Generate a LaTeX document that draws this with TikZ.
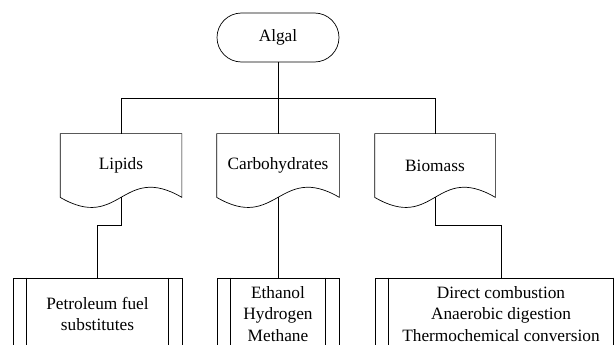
\documentclass[tikz,border=0pt]{standalone}
\usepackage{fontspec}
\setmainfont{Liberation Serif}
\newfontfamily\figfont{Liberation Serif}
\usetikzlibrary{shapes.misc}

\begin{document}
\begin{tikzpicture}[
        x=1pt, y=-1pt,
        line width=0.7pt,
        every node/.style={font=\figfont\fontsize{17.3}{21.5}\selectfont, align=center, inner sep=0pt},
        term/.style={draw, rounded rectangle, minimum width=122pt, minimum height=49pt},
        docbox/.style={minimum width=#1, minimum height=63pt},
        procbox/.style={draw, minimum width=#1, minimum height=72pt},
        link/.style={draw}
    ]
        \useasboundingbox (0,0) rectangle (614,345);
        \clip (0,0) rectangle (614,345);

        % top
        \node[term] (algal) at (278,37.5) {Algal};

        % products of the algae
        \node[docbox=121pt] (lipids) at (121,165.5) {Lipids};
        \node[docbox=122pt] (carbo) at (278,165.5) {Carbohydrates};
        \node[docbox=120pt] (biomass) at (435,165.5) {Biomass};
        \foreach \n in {lipids,carbo,biomass}
            \draw (\n.south west) |- (\n.north east) -- (\n.south east)
                .. controls +(-60,-35) and +(60,35) .. (\n.south west);

        % uses
        \node[procbox=169pt] (fuel) at (97.5,314) {Petroleum fuel\\substitutes};
        \node[procbox=122pt] (gas) at (278,314) {Ethanol\\Hydrogen\\Methane};
        \node[procbox=252pt] (energy) at (501,314) {Direct combustion\\Anaerobic digestion\\Thermochemical conversion};
        \foreach \n in {fuel,gas,energy} {
            \draw ([xshift=14pt]\n.north west) -- ([xshift=14pt]\n.south west);
            \draw ([xshift=-14pt]\n.north east) -- ([xshift=-14pt]\n.south east);
        }

        % connectors
        \draw[link] (algal.south) -- (carbo.north);
        \draw[link] (lipids.north) -- ++(0,-35) -| (biomass.north);
        \draw[link] (lipids.south) -- ++(0,28) -| (fuel.north);
        \draw[link] (carbo.south) -- (gas.north);
        \draw[link] (biomass.south) -- ++(0,28) -| (energy.north);
    \end{tikzpicture}
\end{document}
